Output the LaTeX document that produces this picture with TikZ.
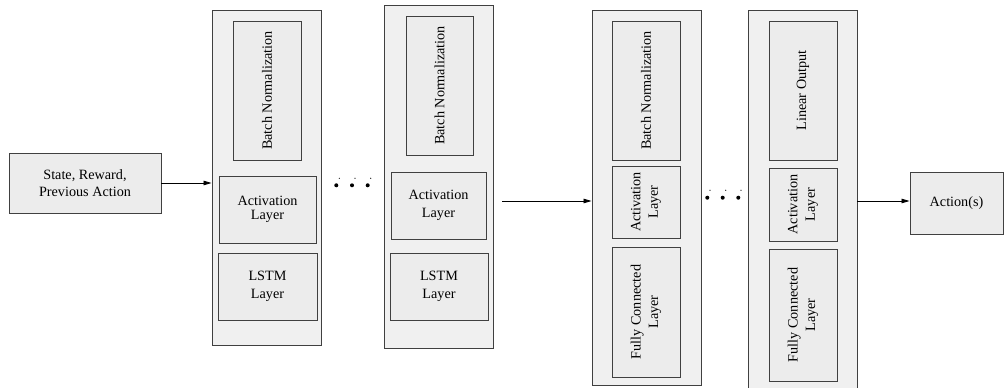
\documentclass[tikz,border=0pt]{standalone}
\usepackage{fontspec}
\setmainfont{Liberation Serif}
\usetikzlibrary{arrows.meta,shadows}
\definecolor{edge}{HTML}{404040}
\definecolor{outerfill}{HTML}{F0F0F0}
\definecolor{innerfill}{HTML}{ECECEC}
\tikzset{
  base/.style={rectangle, draw=edge, line width=0.9pt, inner sep=0pt,
    font=\fontsize{14.2}{17.5}\selectfont, align=center, text=black,
    drop shadow={shadow xshift=1.2pt, shadow yshift=-1.2pt, opacity=0.25}},
  block/.style={base, fill=outerfill},
  layer/.style={base, fill=innerfill},
  vlayer/.style={layer, rotate=90},
  arr/.style={draw=black, line width=0.8pt, -{Triangle[length=8pt,width=4.5pt]}},
  dot/.style={fill=black}
}
\begin{document}
\begin{tikzpicture}[x=1pt,y=-1pt]
\useasboundingbox (0,0) rectangle (1004,388);

% input
\node[layer, minimum width=152, minimum height=60] (in) at (85,183) {State, Reward,\\Previous Action};

% first recurrent block
\node[block, minimum width=109, minimum height=335] (b1) at (266.5,177.5) {};
\node[vlayer, minimum width=139, minimum height=68] (bn1) at (267,90.5) {Batch Normalization};
\node[layer, minimum width=97, minimum height=67, font=\fontsize{14.2}{14.5}\selectfont] (ac1) at (267.5,209.5) {Activation\\Layer};
\node[layer, minimum width=99, minimum height=67] (ls1) at (267.5,286.5) {LSTM\\Layer};

% second recurrent block
\node[block, minimum width=109, minimum height=343] (b2) at (438.5,176.5) {};
\node[vlayer, minimum width=139, minimum height=67] (bn2) at (439.5,85.5) {Batch Normalization};
\node[layer, minimum width=95, minimum height=67] (ac2) at (438.5,205.5) {Activation\\Layer};
\node[layer, minimum width=98, minimum height=67] (ls2) at (439,286.5) {LSTM\\Layer};

% first dense block
\node[block, minimum width=109, minimum height=375] (b3) at (646.5,197.5) {};
\node[vlayer, minimum width=139, minimum height=68] (bn3) at (646,90.5) {Batch Normalization};
\node[vlayer, minimum width=72, minimum height=68] (ac3) at (646,202) {Activation\\Layer};
\node[vlayer, minimum width=130, minimum height=68] (fc3) at (646,312) {Fully Connected\\Layer};

% output block
\node[block, minimum width=109, minimum height=385] (b4) at (802.5,202.5) {};
\node[vlayer, minimum width=139, minimum height=68] (lo4) at (803,90.5) {Linear Output};
\node[vlayer, minimum width=73, minimum height=68] (ac4) at (803,204.5) {Activation\\Layer};
\node[vlayer, minimum width=132, minimum height=68] (fc4) at (803,315) {Fully Connected\\Layer};

% result
\node[layer, minimum width=93, minimum height=62] (act) at (956.5,203) {Action(s)};

% connectors
\coordinate (c23) at (502,201);
\draw[arr] (in.east) -- (in.east -| b1.west);
\draw[arr] (c23) -- (c23 -| b3.west);
\draw[arr] (b4.east |- c23) -- (act.west |- c23);

% ellipses between repeated blocks
\foreach \x in {336.3,352,367.7} \fill[dot] (\x,185.3) circle (2);
\foreach \x in {339.3,355,370.7} \fill[dot] (\x,178.3) circle (0.6);
\foreach \x in {707.3,722.7,738.3} \fill[dot] (\x,197.7) circle (2);
\foreach \x in {710,725.7,741} \fill[dot] (\x,190.3) circle (0.6);
\end{tikzpicture}
\end{document}
